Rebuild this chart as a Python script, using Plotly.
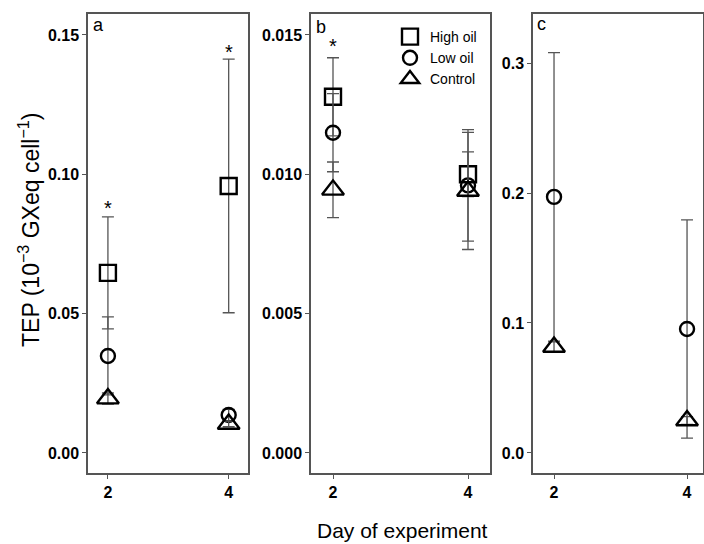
import plotly.graph_objects as go

days = [2, 4]
series_names = ["High oil", "Low oil", "Control"]

# Panel a
a_high = [0.0646, 0.0958]
a_high_err = [0.0201, 0.0455]
a_low = [0.0348, 0.0136]
a_low_err = [0.0140, 0.0020]
a_ctrl = [0.0195, 0.0104]
a_ctrl_err = [0.0020, 0.0010]

# Panel b
b_high = [0.01278, 0.0100]
b_high_err = [0.0014, 0.0008]
b_low = [0.01149, 0.0096]
b_low_err = [0.0014, 0.0020]
b_ctrl = [0.00944, 0.0094]
b_ctrl_err = [0.0010, 0.0021]

# Panel c
c_low = [0.197, 0.0954]
c_low_err = [0.111, 0.084]
c_ctrl = [0.0815, 0.025]
c_ctrl_err = [0.004, 0.003]

a_ticks = [0.00, 0.05, 0.10, 0.15]
a_ticklabels = ["0.00", "0.05", "0.10", "0.15"]
b_ticks = [0.000, 0.005, 0.010, 0.015]
b_ticklabels = ["0.000", "0.005", "0.010", "0.015"]
c_ticks = [0.0, 0.1, 0.2, 0.3]
c_ticklabels = ["0.0", "0.1", "0.2", "0.3"]
x_ticks = [2, 4]

symbols = {"High oil": "square-open", "Low oil": "circle-open", "Control": "triangle-up-open"}
sizes = {"High oil": 16, "Low oil": 14, "Control": 19}

W, H = 704, 544
def px(x):
    return x / W
def py(y):
    return (H - y) / H

fig = go.Figure()

FONT = "Arial, Liberation Sans, sans-serif"
ERRC = "#555555"

def add(xa, ya, name, vals, errs, show):
    fig.add_trace(go.Scatter(
        x=days, y=vals, mode="markers", name=name,
        xaxis=xa, yaxis=ya, legendgroup=name, showlegend=show,
        marker=dict(symbol=symbols[name], size=sizes[name], color="black",
                    line=dict(width=2.4, color="black")),
        error_y=dict(type="data", array=errs, visible=True, color=ERRC,
                     thickness=1.3, width=6),
    ))

add("x", "y", "High oil", a_high, a_high_err, False)
add("x", "y", "Low oil", a_low, a_low_err, False)
add("x", "y", "Control", a_ctrl, a_ctrl_err, False)
add("x2", "y2", "High oil", b_high, b_high_err, True)
add("x2", "y2", "Low oil", b_low, b_low_err, True)
add("x2", "y2", "Control", b_ctrl, b_ctrl_err, True)
add("x3", "y3", "Low oil", c_low, c_low_err, False)
add("x3", "y3", "Control", c_ctrl, c_ctrl_err, False)

ydom = [py(473), py(14)]
axcommon = dict(showgrid=False, zeroline=False, showline=True, linecolor="#555555",
                linewidth=1.5, mirror=True, ticks="outside", ticklen=4, tickcolor="#555555",
                tickfont=dict(family=FONT, size=16, color="black", weight="bold"))

fig.update_layout(
    width=W, height=H, margin=dict(l=0, r=0, t=0, b=0),
    plot_bgcolor="white", paper_bgcolor="white",
    font=dict(family=FONT, color="black"),
    xaxis=dict(domain=[px(88), px(248)], range=[1.67, 4.32], tickvals=x_ticks,
               anchor="y", **axcommon),
    yaxis=dict(domain=ydom, range=[-0.0072, 0.1575], tickvals=a_ticks,
               ticktext=a_ticklabels, anchor="x", **axcommon),
    xaxis2=dict(domain=[px(311), px(490)], range=[1.674, 4.326], tickvals=x_ticks,
                anchor="y2", **axcommon),
    yaxis2=dict(domain=ydom, range=[-0.00072, 0.01575], tickvals=b_ticks,
                ticktext=b_ticklabels, anchor="x2", **axcommon),
    xaxis3=dict(domain=[px(533), px(703)], range=[1.684, 4.24], tickvals=x_ticks,
                anchor="y3", **axcommon),
    yaxis3=dict(domain=ydom, range=[-0.0154, 0.3377], tickvals=c_ticks,
                ticktext=c_ticklabels, anchor="x3", **axcommon),
    legend=dict(x=px(390), y=py(21), xanchor="left", yanchor="top",
                bgcolor="rgba(0,0,0,0)", font=dict(family=FONT, size=14, color="black"),
                itemwidth=30, tracegroupgap=0),
    showlegend=True,
)

annotations = [
    dict(text="a", x=px(91), y=py(25), xref="paper", yref="paper", xanchor="left",
         yanchor="middle", showarrow=False, font=dict(size=18, family=FONT)),
    dict(text="b", x=px(314), y=py(27), xref="paper", yref="paper", xanchor="left",
         yanchor="middle", showarrow=False, font=dict(size=18, family=FONT)),
    dict(text="c", x=px(535), y=py(24), xref="paper", yref="paper", xanchor="left",
         yanchor="middle", showarrow=False, font=dict(size=18, family=FONT)),
    dict(text="*", x=2, y=0.088, xref="x", yref="y", showarrow=False,
         yanchor="middle", font=dict(size=20, family=FONT)),
    dict(text="*", x=4, y=0.144, xref="x", yref="y", showarrow=False,
         yanchor="middle", font=dict(size=20, family=FONT)),
    dict(text="*", x=2, y=0.0146, xref="x2", yref="y2", showarrow=False,
         yanchor="middle", font=dict(size=20, family=FONT)),
    dict(text="Day of experiment", x=px(402), y=py(530), xref="paper", yref="paper",
         showarrow=False, yanchor="middle", font=dict(size=21, family=FONT)),
    dict(text="TEP (10<sup>−3</sup> GXeq cell<sup>−1</sup>)", x=px(29), y=py(230),
         xref="paper", yref="paper", showarrow=False, textangle=-90,
         xanchor="center", yanchor="middle", font=dict(size=23, family=FONT)),
]
fig.update_layout(annotations=annotations)

fig.write_html("out.html", config={"displayModeBar": False},
               post_script="document.body.style.margin='0';document.body.style.overflow='hidden';")
